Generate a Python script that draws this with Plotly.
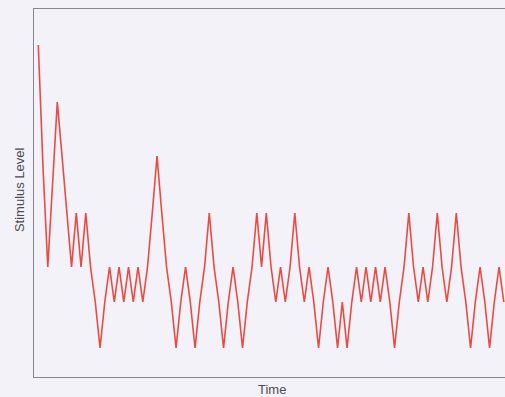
import plotly.graph_objects as go

# Stimulus level presented on each trial of an adaptive staircase
stimulus = [
    332, 209, 110, 190, 275, 221, 164, 110, 164, 110,
    164, 110, 75, 29, 75, 110, 75, 110, 75, 110,
    75, 110, 75, 110, 164, 221, 164, 110, 75, 29,
    75, 110, 75, 29, 75, 110, 164, 110, 75, 29,
    75, 110, 75, 29, 75, 110, 164, 110, 164, 110,
    75, 110, 75, 110, 164, 110, 75, 110, 75, 29,
    75, 110, 75, 29, 75, 29, 75, 110, 75, 110,
    75, 110, 75, 110, 75, 29, 75, 110, 164, 110,
    75, 110, 75, 110, 164, 110, 75, 110, 164, 110,
    75, 29, 75, 110, 75, 29, 75, 110, 75,
]
trial = list(range(len(stimulus)))

x_title = "Time"
y_title = "Stimulus Level"

bg = "#f3f2f9"
axis_color = "#87868d"
text_font = dict(family="Liberation Sans, Arial, sans-serif", size=13, color="#4b4b50")

fig = go.Figure(
    go.Scatter(
        x=trial,
        y=stimulus,
        mode="lines",
        line=dict(color="#e94a42", width=1.6),
        hoverinfo="skip",
    )
)

common_axis = dict(
    showgrid=False,
    zeroline=False,
    showticklabels=False,
    ticks="",
    showline=True,
    linecolor=axis_color,
    linewidth=1.4,
    fixedrange=True,
)

fig.update_layout(
    width=505,
    height=397,
    margin=dict(l=34, r=0, t=9, b=20),
    paper_bgcolor=bg,
    plot_bgcolor=bg,
    showlegend=False,
    xaxis=dict(range=[-0.9, 98.25], mirror=True, **common_axis),
    yaxis=dict(range=[0, 368], mirror=False, **common_axis),
    annotations=[
        dict(
            text=x_title, xref="paper", yref="paper",
            x=0.505, y=-0.0353, xanchor="center", yanchor="middle",
            showarrow=False, font=text_font,
        ),
        dict(
            text=y_title, xref="paper", yref="paper",
            x=-0.0318, y=0.508, xanchor="center", yanchor="middle",
            textangle=-90, showarrow=False, font=text_font,
        ),
    ],
)

fig.write_html("out.html", config={"displayModeBar": False})
